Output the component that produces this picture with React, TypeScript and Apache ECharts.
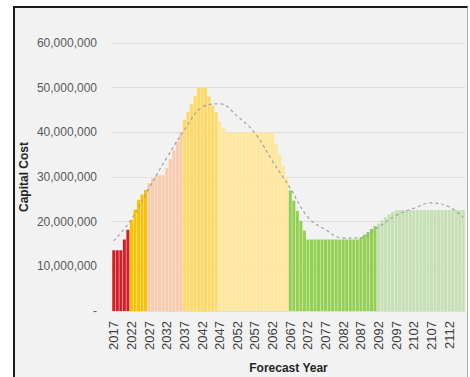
import React, { useEffect, useRef } from "react";
import * as echarts from "echarts";

// Forecast years 2017..2116
const years: string[] = [
  "2017","2018","2019","2020","2021","2022","2023","2024","2025","2026",
  "2027","2028","2029","2030","2031","2032","2033","2034","2035","2036",
  "2037","2038","2039","2040","2041","2042","2043","2044","2045","2046",
  "2047","2048","2049","2050","2051","2052","2053","2054","2055","2056",
  "2057","2058","2059","2060","2061","2062","2063","2064","2065","2066",
  "2067","2068","2069","2070","2071","2072","2073","2074","2075","2076",
  "2077","2078","2079","2080","2081","2082","2083","2084","2085","2086",
  "2087","2088","2089","2090","2091","2092","2093","2094","2095","2096",
  "2097","2098","2099","2100","2101","2102","2103","2104","2105","2106",
  "2107","2108","2109","2110","2111","2112","2113","2114","2115","2116",
];

// Capital cost per year, in millions
const capitalCostM: number[] = [
  13.6, 13.6, 13.6, 16.0, 18.2, 20.4, 22.7, 24.9, 26.1, 27.1,
  28.6, 29.6, 30.4, 30.4, 30.4, 32.0, 34.0, 36.0, 38.0, 40.0,
  42.8, 44.5, 46.3, 48.1, 50.0, 50.0, 50.0, 48.0, 46.0, 44.5,
  42.5, 41.0, 40.0, 40.0, 40.0, 40.0, 40.0, 40.0, 40.0, 40.0,
  40.0, 40.0, 40.0, 40.0, 40.0, 40.0, 37.5, 35.0, 32.5, 30.0,
  27.0, 24.7, 22.4, 20.2, 18.0, 16.0, 16.0, 16.0, 16.0, 16.0,
  16.0, 16.0, 16.0, 16.0, 16.0, 16.0, 16.0, 16.0, 16.0, 16.0,
  16.5, 17.1, 17.7, 18.4, 19.0, 19.6, 20.3, 21.0, 21.6, 22.2,
  22.6, 22.6, 22.6, 22.6, 22.6, 22.6, 22.6, 22.6, 22.6, 22.6,
  22.6, 22.6, 22.6, 22.6, 22.6, 22.6, 22.6, 22.6, 22.6, 22.6,
];

// Colour phases: first year of each phase and its colour
const phaseStartYears: number[] = [2017, 2022, 2027, 2037, 2047, 2067, 2092];
const phaseColors: string[] = ["#d01f26", "#ffc000", "#f8cbad", "#ffd966", "#ffe699", "#92d050", "#c5e0b4"];

// Polynomial trendline read at key years (millions)
const trendYears: number[] = [2017, 2022, 2027, 2032, 2037, 2042, 2047, 2052, 2057, 2062, 2067, 2072, 2077, 2082, 2087, 2092, 2097, 2102, 2107, 2112, 2116];
const trendM: number[] = [15.7, 20.5, 27.5, 34.3, 40.5, 45.6, 46.4, 43.6, 39.8, 33.5, 27.5, 21.0, 18.2, 16.3, 16.4, 18.8, 21.4, 23.0, 24.2, 23.3, 20.9];

const yTicks: number[] = [0, 10000000, 20000000, 30000000, 40000000, 50000000, 60000000];

function colorForYear(y: number): string {
  let c = phaseColors[0];
  for (let i = 0; i < phaseStartYears.length; i++) {
    if (y >= phaseStartYears[i]) c = phaseColors[i];
  }
  return c;
}

export default function App() {
  const ref = useRef<HTMLDivElement>(null);
  useEffect(() => {
    if (!ref.current) return;
    const chart = echarts.init(ref.current, undefined, { renderer: "svg" });
    const font = "'Liberation Sans', Arial, sans-serif";
    const barData = capitalCostM.map((v, i) => ({
      value: v * 1000000,
      itemStyle: { color: colorForYear(Number(years[i])) },
    }));
    const trendData = trendYears.map((y, i) => [y, trendM[i] * 1000000]);
    chart.setOption({
      animation: false,
      backgroundColor: "transparent",
      textStyle: { fontFamily: font },
      grid: { left: 112, right: 5, top: 43, bottom: 66, containLabel: false, outerBoundsMode: "none" },
      xAxis: [
        {
          type: "category",
          data: years,
          axisLine: { show: false },
          axisTick: { show: false },
          axisLabel: {
            interval: 4,
            rotate: 90,
            color: "#404040",
            fontSize: 13,
            fontFamily: font,
            margin: 10,
          },
          name: "Forecast Year",
          nameLocation: "middle",
          nameGap: 51,
          nameTextStyle: { fontWeight: "bold", fontSize: 12, color: "#262626", fontFamily: font },
        },
        {
          type: "value",
          min: 2016.5,
          max: 2116.5,
          show: false,
        },
      ],
      yAxis: {
        type: "value",
        min: yTicks[0],
        max: yTicks[yTicks.length - 1],
        interval: 10000000,
        axisLine: { show: false },
        axisTick: { show: false },
        splitLine: { lineStyle: { color: "#dedede", width: 1 } },
        axisLabel: {
          color: "#595959",
          fontSize: 12,
          fontFamily: font,
          margin: 15,
          formatter: (v: number) => (v === 0 ? "-" : v.toLocaleString("en-US")),
        },
        name: "Capital Cost",
        nameLocation: "middle",
        nameGap: 82,
        nameMoveOverlap: false,
        nameTextStyle: { fontWeight: "bold", fontSize: 12, color: "#262626", fontFamily: font },
      },
      series: [
        {
          type: "bar",
          data: barData,
          barCategoryGap: "14%",
          xAxisIndex: 0,
        },
        {
          type: "line",
          data: trendData,
          xAxisIndex: 1,
          smooth: 0.4,
          symbol: "none",
          lineStyle: { color: "#a0a0a0", width: 1.2, type: [3, 3] },
          z: 5,
        },
      ],
    });
    return () => chart.dispose();
  }, []);
  return (
    <div style={{ position: "fixed", left: 0, top: 0, width: 470, height: 377, background: "#ffffff", overflow: "hidden" }}>
      <div
        style={{
          position: "absolute",
          left: 13,
          top: 6,
          width: 452,
          height: 380,
          background: "#f2f2f2",
          borderTop: "2px solid #1a1a1a",
          borderLeft: "2px solid #1a1a1a",
          borderRight: "1px solid #b0b0b0",
        }}
      />
      <div ref={ref} style={{ position: "absolute", left: 0, top: 0, width: 470, height: 377 }} />
    </div>
  );
}
